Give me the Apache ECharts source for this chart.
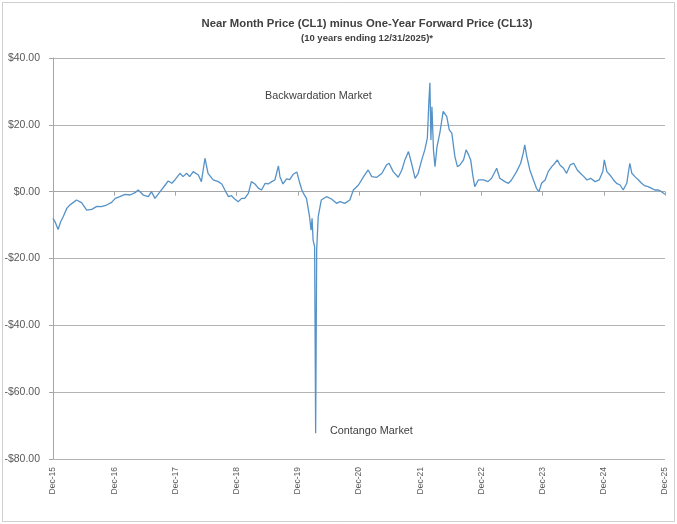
<!DOCTYPE html>
<html>
<head>
<meta charset="utf-8">
<script src="https://cdn.jsdelivr.net/npm/echarts@6/dist/echarts.min.js"></script>
<style>
  html, body { margin: 0; padding: 0; background: #fff; }
  #chart { width: 677px; height: 524px; }
</style>
</head>
<body>
<div id="chart"></div>
<script>
// months since Dec-2015 (x), spread CL1 - CL13 in $ (y)
var months = [
  0, 0.4, 1.0, 1.5, 2.0, 2.7, 3.3, 4.0, 4.6, 5.6, 6.6, 7.6, 8.6, 9.5, 10.5, 11.5,
  12.2, 13.1, 14.1, 15.1, 16.1, 16.7, 17.7, 18.7, 19.3, 20.0, 21.0, 22.0, 22.6, 23.3, 23.9,
  24.9, 25.5, 26.2, 26.8, 27.5, 28.5, 29.1, 29.8, 30.4, 31.4, 32.4, 33.1, 33.7, 34.4, 35.0, 35.7,
  36.3, 37.0, 37.6, 38.3, 38.9, 39.6, 40.3, 40.9, 41.6, 42.2, 42.9, 43.5, 44.2, 44.5, 45.1, 45.8,
  46.4, 47.1, 47.8, 48.4, 48.8, 49.1, 49.7, 50.3, 50.6, 50.8, 51.0, 51.3, 51.5, 51.7, 52.0, 52.6,
  53.6, 54.6, 55.6, 56.3, 57.2, 58.2, 58.9, 59.9, 60.9, 61.8, 62.5, 63.5, 64.5, 65.4, 65.9,
  66.7, 67.7, 68.4, 69.0, 69.7, 70.3, 71.0, 71.6, 72.3, 72.9, 73.4, 73.7, 73.9, 74.1, 74.3,
  74.6, 74.9, 75.3, 75.9, 76.5, 77.2, 77.7, 78.2, 78.8, 79.3, 79.8, 80.5, 81.0, 81.5, 81.9,
  82.3, 82.7, 83.4, 84.4, 85.3, 86.0, 87.0, 87.6, 88.6, 89.3, 89.9, 90.9, 91.7, 92.2, 92.5,
  92.9, 93.5, 94.2, 94.8, 95.3, 95.8, 96.5, 97.1, 97.8, 98.4, 98.9, 99.4, 100.1, 100.7, 101.4,
  102.1, 102.8, 103.4, 104.1, 104.7, 105.4, 106.3, 107.1, 107.8, 108.1, 108.6, 109.2, 109.9,
  110.5, 111.2, 111.8, 112.5, 113.1, 113.5, 114.1, 114.8, 115.4, 116.1, 116.7, 117.4, 118.0,
  118.7, 119.3, 120.0
];
var spread = [
  -8, -9, -11.3, -9, -7.5, -5, -4, -3.2, -2.5, -3.3, -5.5, -5.3, -4.4, -4.5, -4, -3.2,
  -2, -1.5, -0.8, -1, -0.3, 0.5, -1, -1.5, 0, -2, 0, 2, 3.2, 2.5, 3.5,
  5.5, 4.5, 5.5, 4.5, 6, 5, 3, 10, 5.5, 3.5, 3, 2.3, 0.5, -1.5, -1.2, -2.3,
  -3, -2, -2, -0.5, 3, 2.3, 1, 0.5, 2.5, 2.3, 3, 3.5, 7.7, 4.5, 2.3, 3.8,
  3.6, 5.2, 5.9, 2.5, 0.5, -0.5, -2, -7.5, -11.5, -8, -14.5, -16.5, -72.3, -17.5, -7.5, -2.5,
  -1.5, -2.2, -3.5, -3, -3.5, -2.5, 0.5, 2, 4.5, 6.5, 4.5, 4.3, 5.5, 8, 8.5,
  6, 4.3, 6.5, 9.5, 12, 8.5, 4, 5.5, 9.5, 12.5, 16, 27, 32.6, 15.5, 25.4,
  12.5, 7.5, 13.5, 18, 24, 22.5, 18.5, 17.5, 10.5, 7.5, 8, 9.5, 12.5, 11, 9.5,
  5, 1.5, 3.5, 3.5, 3, 4, 7, 4, 3, 2.5, 3.5, 6, 8.5, 11.5, 14,
  10.5, 6.5, 3.5, 1, 0, 2.5, 3.5, 6, 7.5, 8.5, 9.5, 8, 7, 5.5, 8,
  8.5, 6.5, 5.5, 4.5, 3.5, 4, 3, 3.5, 6, 9.5, 6, 5, 3.5,
  2.5, 2, 0.5, 2.5, 8.5, 5.5, 4.5, 3.5, 2.5, 1.7, 1.5, 1, 0.5,
  0.5, 0, -0.8
];
// tick labels
var yearLabels = ['Dec-15', 'Dec-16', 'Dec-17', 'Dec-18', 'Dec-19', 'Dec-20',
                  'Dec-21', 'Dec-22', 'Dec-23', 'Dec-24', 'Dec-25'];

var chart = echarts.init(document.getElementById('chart'));

var seriesData = months.map(function (m, i) { return [m, spread[i]]; });

var option = {
  animation: false,
  backgroundColor: '#fff',
  textStyle: { fontFamily: 'Liberation Sans, Arial, sans-serif' },
  title: [{
    text: 'Near Month Price (CL1) minus One-Year Forward Price (CL13)',
    left: 362, top: 13, textAlign: 'center',
    textStyle: { fontSize: 11.3, fontWeight: 'bold', color: '#404040' }
  }, {
    text: '(10 years ending 12/31/2025)*',
    left: 362, top: 28, textAlign: 'center',
    textStyle: { fontSize: 9.5, fontWeight: 'bold', color: '#404040' }
  }],
  grid: { left: 53, right: 12, top: 58, bottom: 65, containLabel: false },
  xAxis: [{
    type: 'value', min: 0, max: 120, interval: 12,
    axisLine: { show: false, onZero: false },
    axisTick: { show: false },
    splitLine: { show: false },
    axisLabel: {
      rotate: 90, margin: 8, fontSize: 8.5, color: '#595959',
      formatter: function (v) { return yearLabels[v / 12]; }
    }
  }, {
    type: 'value', min: 0, max: 120, interval: 12, position: 'top',
    axisLine: { show: true, onZero: true, lineStyle: { color: '#a6a6a6', width: 1 } },
    axisTick: { show: true, inside: true, length: 4, lineStyle: { color: '#a6a6a6' } },
    axisLabel: { show: false },
    splitLine: { show: false }
  }],
  yAxis: {
    type: 'value', min: -80, max: 40, interval: 20,
    axisLine: { show: true, lineStyle: { color: '#a6a6a6' } },
    axisTick: { show: true, length: 4, lineStyle: { color: '#a6a6a6' } },
    splitLine: { lineStyle: { color: '#b4b4b4', width: 1 } },
    axisLabel: {
      margin: 13, fontSize: 10.5, color: '#595959',
      formatter: function (v) { return (v < 0 ? '-' : '') + '$' + Math.abs(v).toFixed(2); }
    }
  },
  series: [{
    type: 'line',
    xAxisIndex: 0,
    data: seriesData,
    showSymbol: false,
    lineStyle: { color: '#5592c8', width: 1.3 }
  }],
  graphic: [{
    type: 'rect',
    shape: { x: 2.5, y: 2.5, width: 672, height: 519 },
    style: { fill: 'none', stroke: '#cfcfcf', lineWidth: 1 },
    silent: true
  }, {
    type: 'text', left: 265, top: 91,
    style: { text: 'Backwardation Market', fontSize: 10.8, fill: '#404040', fontFamily: 'Liberation Sans, Arial, sans-serif' }
  }, {
    type: 'text', left: 330, top: 426,
    style: { text: 'Contango Market', fontSize: 10.8, fill: '#404040', fontFamily: 'Liberation Sans, Arial, sans-serif' }
  }]
};

chart.setOption(option);
</script>
</body>
</html>
